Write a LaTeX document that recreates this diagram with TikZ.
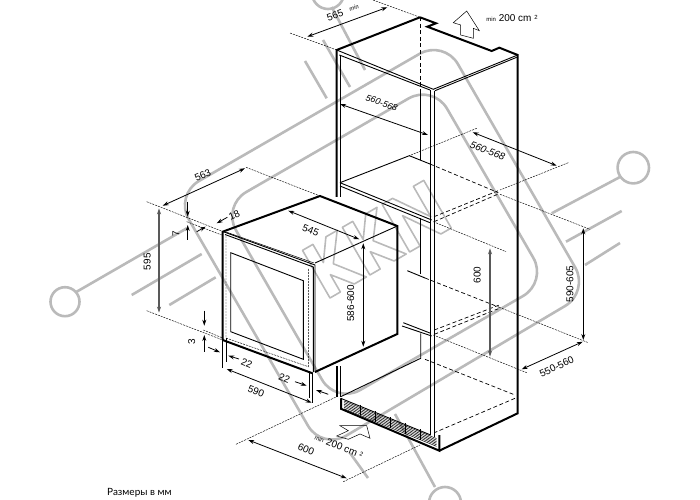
\documentclass[tikz,border=0pt]{standalone}
\usepackage{fontspec}
\setmainfont{Liberation Sans}
\newfontfamily\notefont{Lato}
\usetikzlibrary{arrows.meta}

\begin{document}
\begin{tikzpicture}[x=1bp,y=-1bp]
\tikzstyle{every node}+=[inner sep=0pt,font=\fontsize{10}{12}\selectfont]
\tikzstyle{wm}=[draw=black!27,line width=2.6bp]
\tikzstyle{wmtext}=[draw=black!27,line width=1.6bp,line join=round]
\tikzstyle{heavy}=[black,line width=2bp]
\tikzstyle{plain}=[black,line width=0.9bp]
\tikzstyle{hair}=[black,line width=0.5bp]
\tikzstyle{hidden}=[black,line width=0.7bp,dash pattern=on 4bp off 2.5bp]
\tikzstyle{ext}=[black,line width=0.45bp,dash pattern=on 2bp off 1bp]
\tikzstyle{dim}=[black,line width=0.8bp,{Stealth[length=6bp,width=4bp,inset=2bp]}-{Stealth[length=6bp,width=4bp,inset=2bp]}]
\tikzstyle{tick}=[black,line width=0.8bp,-{Stealth[length=6bp,width=4bp,inset=2bp]}]
\useasboundingbox (0,0) rectangle (700,500);
\draw [wm,rounded corners=28bp] (174.7,195) -- (443.9,39.8) -- (589.2,291.7) -- (322,450) -- cycle;
\draw [wm,rounded corners=28bp] (222,206) -- (433,84.4) -- (547.3,282) -- (336,404) -- cycle;
\draw [wm] (65,301.7) circle (14.5);
\draw [wm] (633.3,167.7) circle (15.7);
\draw [wm] (328,-7) circle (16);
\draw [wm] (445,503) circle (16);
\draw [wm] (76.7,291.7) -- (186.7,228.3);
\draw [wm] (131.7,295) -- (201.7,254);
\draw [wm] (169.3,305) -- (215.7,277.3);
\draw [wm] (620,177) -- (551.7,213.3);
\draw [wm] (621.7,211) -- (566,241.7);
\draw [wm] (620,243) -- (585,265);
\draw [wm] (331.7,7) -- (365,70);
\draw [wm] (323,40) -- (350,87);
\draw [wm] (305,61) -- (326.7,98.3);
\draw [wm] (350,453) -- (368,478);
\draw [wm] (395,414) -- (435,487);
\begin{scope}[shift={(330,298)},rotate=30]
\draw [wmtext] (0,0) -- (12,0) -- (12,-20) -- (28,0) -- (42,0) -- (20,-28) -- (40,-55) -- (27,-55) -- (12,-34) -- (12,-55) -- (0,-55) -- cycle;
\begin{scope}[xshift=46bp]
\draw [wmtext] (0,0) -- (12,0) -- (12,-20) -- (28,0) -- (42,0) -- (20,-28) -- (40,-55) -- (27,-55) -- (12,-34) -- (12,-55) -- (0,-55) -- cycle;
\end{scope}
\draw [wmtext] (92,0) -- (104,0) -- (104,-35) -- (128,0) -- (140,0) -- (140,-55) -- (128,-55) -- (128,-20) -- (104,-55) -- (92,-55) -- cycle;
\end{scope}
\draw [heavy] (420,17.3) -- (336.7,50) -- (336.7,197);
\draw [heavy] (420,17.3) -- (436,23.3) -- (427.3,26.7) -- (491.7,51) -- (499.3,47.7) -- (517.7,55) -- (517.7,413.3) -- (439.3,450.7);
\draw [plain] (340,55) -- (340,197);
\draw [plain] (336.7,50) -- (433.3,89.3) -- (517.7,55);
\draw [plain] (339.3,55) -- (430,90);
\draw [plain] (435,90.7) -- (516.7,57.3);
\draw [plain] (430.7,90) -- (430.7,435);
\draw [plain] (434,90.7) -- (434,437);
\draw [hidden] (420,17.3) -- (420,90);
\draw [plain] (420,90) -- (420,160);
\draw [plain] (340,182.7) -- (409.3,155.7) -- (430,164);
\draw [hidden] (430,164) -- (498.3,192.7);
\draw [plain] (340,182.7) -- (431.7,220);
\draw [plain] (340,186) -- (430,222.7);
\draw [hidden] (434,216.7) -- (500,190);
\draw [hidden] (434,221.7) -- (498.3,194);
\draw [plain] (420.7,218.3) -- (420.7,274);
\draw [plain] (407.3,270.7) -- (425,278);
\draw [hidden] (425,278) -- (499.3,307.3);
\draw [plain] (403.3,322.7) -- (430.7,333.3);
\draw [plain] (402,326) -- (431.7,336);
\draw [hidden] (434.3,330) -- (499.3,305);
\draw [hidden] (434.3,334.3) -- (499.3,308.3);
\draw [heavy] (336.5,366) -- (336.5,396.7);
\draw [plain] (340,366) -- (340,396.7);
\draw [plain] (340.7,396.7) -- (420.7,358.3) -- (420.7,333.3);
\draw [hidden] (425,359.3) -- (515,395);
\draw [hidden] (515,398.3) -- (434.3,432.7);
\draw [heavy] (341,398.3) -- (341,408.8) -- (439.3,450.7) -- (439.3,435);
\draw [plain] (340.7,398.3) -- (430.7,435);
\foreach \i in {1,...,6}
\draw [hair] (344,{399.5+1.55*\i}) -- (436.5,{437+1.55*\i});
\foreach \i in {360,375,...,420}
\draw [hair] (\i,{398.5+0.405*(\i-344)}) -- (\i,{409+0.405*(\i-344)});
\draw [heavy] (222.7,340) -- (222.7,231.7) -- (320,196) -- (397.3,226) -- (397.3,334) -- (315,372);
\draw [heavy] (222.7,340) -- (312.5,373.3);
\draw [plain] (223.3,231.7) -- (315,265) -- (315,372);
\draw [plain] (225,234.5) -- (313.3,267) -- (313.3,372);
\draw [hair] (226,232) -- (314,263);
\draw [plain] (315,263) -- (397.3,226);
\draw [plain] (230.7,252.7) -- (303.3,280.7) -- (303.3,359.3) -- (230.7,331.7) -- cycle;
\draw [ext] (226,236) -- (226,338) -- (308.3,366.7) -- (308.3,268);
\draw [ext] (290,33) -- (336.7,50);
\draw [ext] (373,0) -- (420,17.3);
\draw [ext] (476.7,128.3) -- (409.3,155.7);
\draw [ext] (568.3,162.7) -- (500,190);
\draw [ext] (500,194.3) -- (590,229.3);
\draw [ext] (433.3,221.7) -- (506,251.7);
\draw [ext] (433.3,335) -- (526.7,372.7);
\draw [ext] (499.3,307.3) -- (588.3,342.7);
\draw [ext] (246,167.3) -- (320,196);
\draw [ext] (146.7,201.7) -- (223.3,231.7);
\draw [ext] (186.7,221.7) -- (221.7,235);
\draw [ext] (146.7,310.7) -- (222.7,340);
\draw [ext] (203.3,330) -- (223.3,338.3);
\draw [ext] (236,444.3) -- (336.7,396.7);
\draw [ext] (343.3,481.7) -- (420,445);
\draw [hair] (222.7,340) -- (222.7,368.3);
\draw [hair] (226.7,338) -- (226.7,361.7);
\draw [hair] (309.3,373.3) -- (309.3,398.3);
\draw [hair] (312.7,373) -- (312.7,403.3);
\draw [dim] (307.3,36.7) -- (387.3,7.3);
\draw [dim] (340,104) -- (428,135);
\draw [dim] (472.7,132.3) -- (556.7,165.7);
\draw [dim,black!65,line width=1.3bp] (490,248.3) -- (490,356.7);
\draw [dim] (583.3,228.3) -- (583.3,340);
\draw [dim] (521.7,369.3) -- (582.7,341.7);
\draw [dim] (162.7,205.7) -- (245,168.3);
\draw [dim,black!65,line width=1.3bp] (159,208.3) -- (159,312.7);
\draw [dim] (288.3,210.7) -- (359.3,239.3);
\draw [dim] (363.3,243.3) -- (363.3,346.7);
\draw [dim] (226.7,369) -- (311.7,402.7);
\draw [dim] (248.3,440) -- (346.7,478.3);
\draw [tick] (187.7,201.7) -- (187.7,216.7);
\draw [tick] (187.7,240) -- (187.7,225);
\draw [tick] (196.7,231.7) -- (205.7,226.7);
\draw [tick] (227.3,217.3) -- (216.7,223.3);
\draw [tick] (204.3,310.7) -- (204.3,325.7);
\draw [tick] (204.3,351.7) -- (204.3,335);
\draw [tick] (208.3,347.3) -- (220,352.3);
\draw [tick] (239,359) -- (228.3,355.7);
\draw [tick] (295,381.7) -- (306.7,385.7);
\draw [tick] (328.3,394.3) -- (316,390);
\draw [hair] (466.7,11) -- (453.3,22.7) -- (460.7,25) -- (460.7,35) -- (473.3,38.3) -- (473.3,28.3) -- (479.3,30.7) -- cycle;
\draw [hair] (340,425.7) -- (366.7,425.7) -- (370,438.3) -- (360,434) -- (348.3,439.3) -- (336.7,436) -- (348.3,430.7) -- cycle;
\node (lblTop) [rotate=20] at (335,15) {565};
\node (lblTopMin) [rotate=20,font=\fontsize{6}{7}\itshape] at (354,8) {min};
\node (lblInner) [rotate=-20,font=\fontsize{9}{11}\itshape] at (381.7,103) {560-568};
\node (lblOuter) [rotate=-22,font=\fontsize{10}{12}\itshape] at (487.7,151) {560-568};
\node (lblAir) at (512,18) {{\fontsize{6}{7}\selectfont min} 200 cm {\fontsize{6}{7}\selectfont\raisebox{2bp}{2}}};
\node (lblNiche) [rotate=90] at (477.3,275) {600};
\node (lblHeight) [rotate=90] at (570,284) {590-605};
\node (lblDepth) [rotate=25] at (556.7,366.7) {550-560};
\node (lblOvenDepth) [rotate=24] at (202.7,175) {563};
\node (lblOvenHeight) [rotate=90] at (147.3,261.7) {595};
\node (lblBody) [rotate=-22] at (310.7,230.7) {545};
\node (lblBodyHeight) [rotate=90] at (350.7,303.3) {586-600};
\node (lblSeven) [rotate=90] at (176,234) {7};
\node (lblEighteen) [rotate=24] at (234.3,215) {18};
\node (lblThree) [rotate=90] at (191.7,341.7) {3};
\node (lblGapLeft) [rotate=-22] at (246.7,363.3) {22};
\node (lblGapRight) [rotate=-22] at (284.3,378.3) {22};
\node (lblWidth) [rotate=-22] at (256,391) {590};
\node (lblNicheWidth) [rotate=-22] at (306,449) {600};
\node (lblAirLow) [rotate=-22] at (339,446) {{\fontsize{6}{7}\selectfont min} 200 cm {\fontsize{6}{7}\selectfont\raisebox{2bp}{2}}};
\node (lblNote) [anchor=west,font=\fontsize{10}{12}\notefont] at (107,493) {Размеры в мм};
\end{tikzpicture}
\end{document}
